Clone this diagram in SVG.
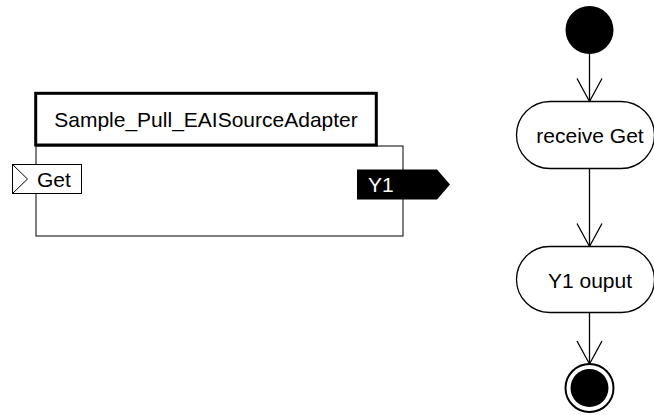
<svg xmlns="http://www.w3.org/2000/svg" width="654" height="415" viewBox="0 0 654 415">
  <defs>
    <style>
      text { font-family: "Liberation Sans", Arial, sans-serif; font-size: 21px; fill: #000; }
      .thin { fill: #fff; stroke: #000; stroke-width: 1; }
      .act { fill: #fff; stroke: #000; stroke-width: 1.3; }
      .conn { fill: none; stroke: #000; stroke-width: 1.3; }
    </style>
    <marker id="open" markerUnits="userSpaceOnUse" viewBox="-25 -15 30 30" refX="0" refY="0" markerWidth="30" markerHeight="30" orient="auto" overflow="visible">
      <path d="M -23 -12.5 L 0 0 L -23 12.5" fill="none" stroke="#000" stroke-width="1.3"/>
    </marker>
  </defs>
  <rect width="654" height="415" fill="#fff"/>

  <g id="component">
    <rect class="thin" x="36" y="146" width="367" height="90"/>
    <rect x="35.7" y="93.3" width="340.6" height="51.7" fill="#fff" stroke="#000" stroke-width="3"/>
    <text x="206" y="126.5" text-anchor="middle">Sample_Pull_EAISourceAdapter</text>
  </g>

  <g id="port-get">
    <rect class="thin" x="12.5" y="164.5" width="69" height="29"/>
    <polyline points="12.5,164.5 27.5,179 12.5,193.5" fill="none" stroke="#000" stroke-width="1"/>
    <text x="37" y="186.5">Get</text>
  </g>

  <g id="port-y1">
    <polygon points="357,169.5 437,169.5 450,184.5 437,199.5 357,199.5" fill="#000"/>
    <text x="368" y="191.5" style="fill:#fff">Y1</text>
  </g>

  <g id="connectors">
    <line class="conn" x1="589.5" y1="54" x2="589.5" y2="101.5" marker-end="url(#open)"/>
    <line class="conn" x1="589.5" y1="168.5" x2="589.5" y2="246.5" marker-end="url(#open)"/>
    <line class="conn" x1="589.5" y1="312.5" x2="589.5" y2="364" marker-end="url(#open)"/>
  </g>

  <g id="start">
    <circle cx="589.5" cy="30" r="24" fill="#000"/>
  </g>

  <g id="receive-get">
    <rect class="act" x="516.5" y="101.5" width="138" height="67" rx="33.5" ry="33.5"/>
    <text x="590" y="142.5" text-anchor="middle">receive Get</text>
  </g>

  <g id="y1-output">
    <rect class="act" x="516.5" y="246.5" width="138" height="66" rx="33" ry="33"/>
    <text x="590" y="287.5" text-anchor="middle">Y1 ouput</text>
  </g>

  <g id="end">
    <circle cx="589.5" cy="388" r="24" fill="#fff" stroke="#000" stroke-width="2"/>
    <circle cx="589.5" cy="388" r="19" fill="#000"/>
  </g>
</svg>
